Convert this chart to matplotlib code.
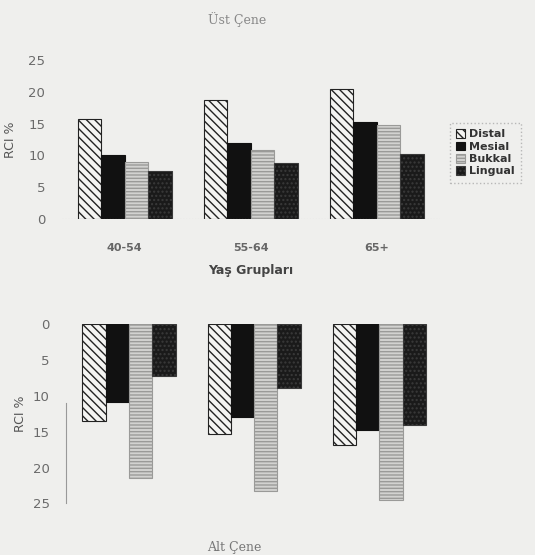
import numpy as np
import matplotlib
matplotlib.use("Agg")
import matplotlib.pyplot as plt

# Veriler (RCI %)
gruplar = ["40-54", "55-64", "65+"]
yuzeyler = ["Distal", "Mesial", "Bukkal", "Lingual"]

ust_distal = [15.7, 18.7, 20.5]
ust_mesial = [10.0, 12.0, 15.3]
ust_bukkal = [9.0, 10.8, 14.8]
ust_lingual = [7.6, 8.8, 10.2]

alt_distal = [13.5, 15.3, 16.9]
alt_mesial = [10.9, 13.0, 14.7]
alt_bukkal = [21.5, 23.3, 24.5]
alt_lingual = [7.2, 8.9, 14.1]

y_ticks = [0, 5, 10, 15, 20, 25]

# Stil
bg = "#efefed"
face = ["#f4f4f2", "#111111", "#d2d2d0", "#1a1a1a"]
hatch = ["\\\\\\\\", None, "-----", "...."]
hcol = ["#222222", "#111111", "#9a9a98", "#3a3a3a"]

plt.rcParams["hatch.linewidth"] = 1.0

fig = plt.figure(figsize=(5.35, 5.55), dpi=100)
fig.patch.set_facecolor(bg)

ax1 = fig.add_axes([0.1154, 0.6054, 0.707, 0.2865])
ax2 = fig.add_axes([0.124, 0.0931, 0.702, 0.3226])

x = np.arange(len(gruplar))
w = 0.186
offs = (np.arange(4) - 1.5) * w


def ciz(ax, seriler):
    for i, vals in enumerate(seriler):
        bars = ax.bar(x + offs[i], vals, w, color=face[i], edgecolor=hcol[i],
                      linewidth=0.8, label=yuzeyler[i])
        for b in bars:
            if hatch[i]:
                b.set_hatch(hatch[i])
    ax.set_facecolor(bg)
    ax.set_xlim(-0.5, 2.5)
    ax.set_yticks(y_ticks)
    ax.tick_params(axis="y", length=0, pad=12, labelsize=9.5, labelcolor="#6a6a6a")
    for s in ax.spines.values():
        s.set_visible(False)


ciz(ax1, [ust_distal, ust_mesial, ust_bukkal, ust_lingual])
ax1.set_ylim(0, 25)
ax1.axhline(0, color="#bbbbbb", lw=0.8, ls=":")
ax1.set_xticks(x)
ax1.set_xticklabels(gruplar, fontsize=8, fontweight="bold", color="#666666")
ax1.tick_params(axis="x", length=0, pad=17)
ax1.set_xlabel("Yaş Grupları", fontsize=9, fontweight="bold", color="#444444",
               labelpad=8)
ax1.set_ylabel("RCI %", fontsize=9, color="#555555", labelpad=8)

ciz(ax2, [alt_distal, alt_mesial, alt_bukkal, alt_lingual])
ax2.set_ylim(25, 0)
ax2.set_xticks([])
ax2.spines["left"].set_visible(True)
ax2.spines["left"].set_bounds(11, 25)
ax2.spines["left"].set_color("#999999")
ax2.spines["left"].set_linewidth(0.8)
ax2.set_ylabel("RCI %", fontsize=9, color="#555555", labelpad=4)

# Başlıklar
fig.text(237 / 535, 1 - 20 / 555, "Üst Çene", ha="center", va="center",
         fontsize=9, family="DejaVu Serif", color="#888888")
fig.text(234 / 535, 1 - 547 / 555, "Alt Çene", ha="center", va="center",
         fontsize=9, family="DejaVu Serif", color="#777777")

h, l = ax1.get_legend_handles_labels()
leg = fig.legend(h, l, loc="upper left", bbox_to_anchor=(453 / 535, 1 - 126 / 555),
                 frameon=True, handlelength=0.8, handleheight=0.8,
                 handletextpad=0.3, labelspacing=0.2, borderpad=0.3,
                 borderaxespad=0, prop={"weight": "bold", "size": 8})
leg.get_frame().set_facecolor(bg)
leg.get_frame().set_edgecolor("#aaaaaa")
leg.get_frame().set_linestyle(":")
leg.get_frame().set_boxstyle("square")
for t in leg.get_texts():
    t.set_color("#333333")

fig.savefig("out.png", dpi=100, facecolor=bg)
